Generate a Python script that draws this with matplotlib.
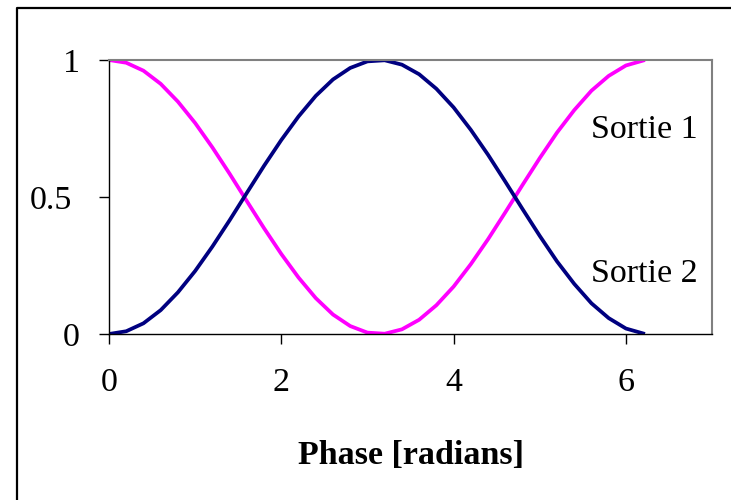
import matplotlib
matplotlib.use("Agg")
import matplotlib.pyplot as plt
import matplotlib.transforms as mtransforms
from matplotlib.lines import Line2D

plt.rcParams['font.family'] = ['Liberation Serif', 'DejaVu Serif']

# Phase values (radians) and the two outputs
phase = [0.0, 0.2, 0.4, 0.6, 0.8, 1.0, 1.2, 1.4, 1.6, 1.8, 2.0, 2.2, 2.4, 2.6, 2.8, 3.0,
         3.2, 3.4, 3.6, 3.8, 4.0, 4.2, 4.4, 4.6, 4.8, 5.0, 5.2, 5.4, 5.6, 5.8, 6.0, 6.2]
sortie1 = [1.000, 0.990, 0.961, 0.913, 0.848, 0.770, 0.681, 0.585, 0.485, 0.386, 0.292,
           0.206, 0.131, 0.071, 0.029, 0.005, 0.001, 0.017, 0.052, 0.105, 0.173, 0.255,
           0.346, 0.444, 0.544, 0.642, 0.735, 0.817, 0.888, 0.942, 0.980, 0.998]
sortie2 = [0.000, 0.010, 0.039, 0.087, 0.152, 0.230, 0.319, 0.415, 0.515, 0.614, 0.708,
           0.794, 0.869, 0.929, 0.971, 0.995, 0.999, 0.983, 0.948, 0.895, 0.827, 0.745,
           0.654, 0.556, 0.456, 0.358, 0.265, 0.183, 0.112, 0.058, 0.020, 0.002]

x_ticks = [0, 2, 4, 6]
y_ticks = [0, 0.5, 1]
y_tick_labels = ['0', '0.5', '1']

fs = 24.5

fig = plt.figure(figsize=(7.31, 5.0), dpi=100)
ax = fig.add_axes([0.1491, 0.332, 0.825, 0.548])

ax.plot(phase, sortie1, color='#FF00FF', lw=2.7, solid_joinstyle='round')
ax.plot(phase, sortie2, color='#000080', lw=2.7, solid_joinstyle='round')

ax.set_xlim(0, 7)
ax.set_ylim(0, 1)
ax.set_xticks(x_ticks)
ax.set_yticks(y_ticks)
ax.set_yticklabels(y_tick_labels)
ax.tick_params(axis='both', direction='out', labelsize=fs, colors='black')
ax.tick_params(axis='x', length=7, width=1, pad=17)
ax.tick_params(axis='y', length=7, width=1, pad=14)

# Excel puts "0.5" a bit further left than "0" and "1"
lbl = ax.get_yticklabels()[1]
lbl.set_transform(lbl.get_transform() +
                  mtransforms.ScaledTranslation(-8 / 100, 0, fig.dpi_scale_trans))

for side in ['top', 'right']:
    ax.spines[side].set_color('#808080')
    ax.spines[side].set_linewidth(1.5)
for side in ['left', 'bottom']:
    ax.spines[side].set_color('black')
    ax.spines[side].set_linewidth(1)

ax.set_xlabel('Phase [radians]', fontsize=fs, fontweight='bold', labelpad=30)

ax.text(5.6, 0.745, 'Sortie 1', fontsize=fs, va='center', ha='left')
ax.text(5.6, 0.22, 'Sortie 2', fontsize=fs, va='center', ha='left')

# outer chart border (only top and left visible)
fig.add_artist(Line2D([17 / 731, 17 / 731, 1], [0, 1 - 8 / 500, 1 - 8 / 500],
                      transform=fig.transFigure, color='black', lw=1.6))

fig.savefig('out.png', dpi=100, facecolor='white')
